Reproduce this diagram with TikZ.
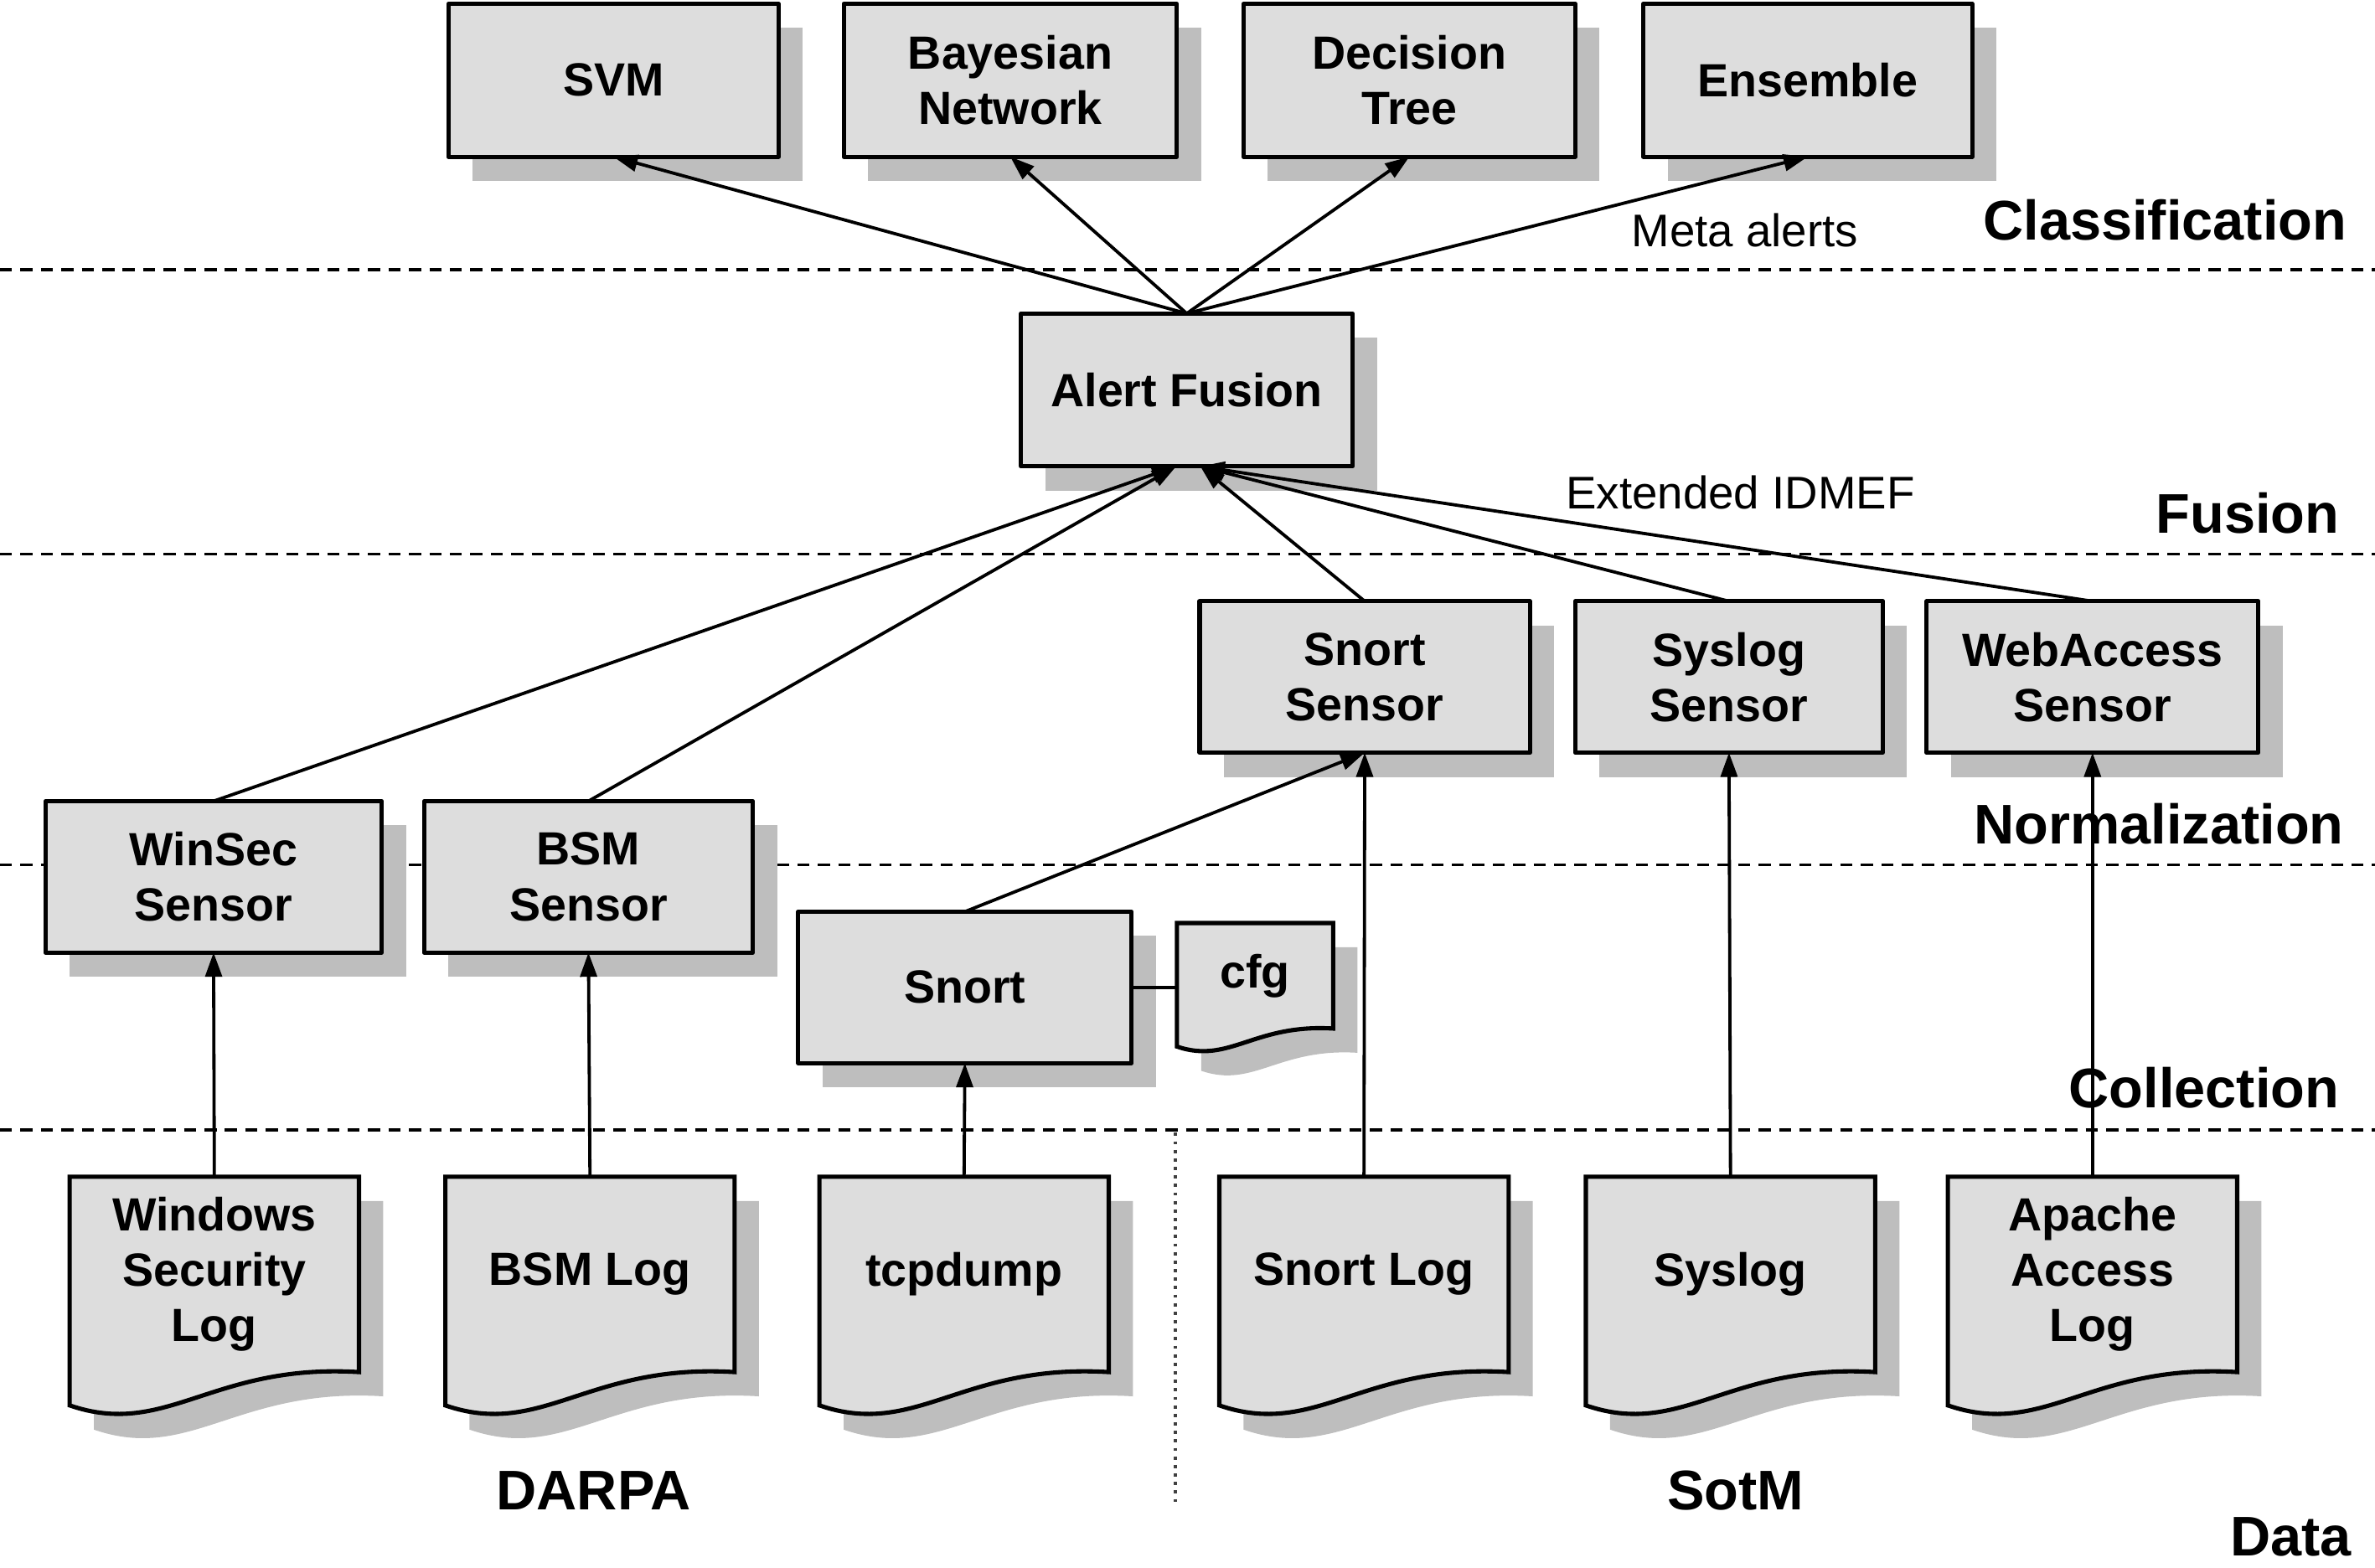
\documentclass[tikz,border=0pt]{standalone}
\usepackage{fontspec}
\setmainfont{Liberation Sans}
\usetikzlibrary{arrows.meta,shadows,backgrounds}
\definecolor{boxgray}{HTML}{DDDDDD}
\definecolor{shadowgray}{HTML}{BEBEBE}

\begin{document}
\begin{tikzpicture}[
  x=0.1mm,
  y=-0.1mm,
  line join=round,
  box/.style={draw=black,line width=0.8pt,fill=boxgray,align=center,
    font=\bfseries\fontsize{8.75}{10.4}\selectfont,inner sep=0pt,outer sep=0pt,
    minimum width=21.8mm,minimum height=10.1mm,
    drop shadow={shadow xshift=1.6mm,shadow yshift=-1.6mm,fill=shadowgray,opacity=1}},
  doc/.style={align=center,font=\bfseries\fontsize{8.75}{10.4}\selectfont,
    inner sep=0pt,outer sep=0pt,minimum width=19.1mm,minimum height=12.9mm},
  docedge/.style={draw=black,line width=0.8pt,fill=boxgray},
  docshadow/.style={fill=shadowgray},
  flow/.style={draw=black,line width=0.6pt,-{Triangle[length=1.6mm,width=1.1mm]}},
  link/.style={draw=black,line width=0.6pt},
  tier/.style={draw=black,line width=0.55pt,dash pattern=on 0.8mm off 0.55mm},
  divider/.style={draw=black!75,line width=0.6pt,densely dotted},
  layer/.style={font=\bfseries\fontsize{10.5}{12}\selectfont,anchor=east,inner sep=0pt},
  group/.style={font=\bfseries\fontsize{10.5}{12}\selectfont,inner sep=0pt},
  msg/.style={font=\fontsize{8.6}{10}\selectfont,inner sep=0pt}
]
  \useasboundingbox (0,0) rectangle (1568,1035);

  % Layer separators.
  \foreach \y in {178,366,571,746} {
    \draw[tier] (0,\y) -- (1568,\y);
  }
  \coordinate (divtop) at (776,748);
  \coordinate (divbot) at (776,995);
  \draw[divider] (divtop) -- (divbot);

  % Layer names.
  \node[layer] (lclass) at (1550,145) {Classification};
  \node[layer] (lfusion) at (1545,339) {Fusion};
  \node[layer] (lnorm) at (1548,544) {Normalization};
  \node[layer] (lcoll) at (1545,718) {Collection};
  \node[layer] (ldata) at (1553,1015) {Data};
  \node[group] (darpa) at (392,984) {DARPA};
  \node[group] (sotm) at (1146,984) {SotM};

  % Classifiers.
  \node[box] (svm) at (405,53) {SVM};
  \node[box,minimum width=22mm] (bayes) at (667,53) {Bayesian\\Network};
  \node[box,minimum width=21.9mm] (dtree) at (930.5,53) {Decision\\Tree};
  \node[box,minimum width=21.7mm] (ensemble) at (1193.5,53) {Ensemble};

  % Fusion and sensors.
  \node[box,minimum width=21.9mm] (fusion) at (783.5,257.5) {Alert Fusion};
  \node[box,minimum height=10mm] (snortsensor) at (901,447) {Snort\\Sensor};
  \node[box,minimum width=20.3mm,minimum height=10mm] (syslogsensor) at (1141.5,447) {Syslog\\Sensor};
  \node[box,minimum width=21.9mm,minimum height=10mm] (webaccess) at (1381.5,447) {WebAccess\\Sensor};
  \node[box,minimum width=22.2mm,minimum height=10mm] (winsec) at (141,579) {WinSec\\Sensor};
  \node[box,minimum width=21.7mm,minimum height=10mm] (bsmsensor) at (388.5,579) {BSM\\Sensor};
  \node[box,minimum width=22mm,minimum height=10mm] (snort) at (637,652) {Snort};

  % Data sources, drawn as documents.
  \node[doc,minimum width=10.3mm,minimum height=7mm] (cfg) at (828.5,644.5) {cfg};
  \node[doc] (wslog) at (141.5,841.5) {Windows\\Security\\Log};
  \node[doc] (bsmlog) at (389.5,841.5) {BSM Log};
  \node[doc] (tcpdump) at (636.5,841.5) {tcpdump};
  \node[doc] (snortlog) at (900.5,841.5) {Snort Log};
  \node[doc] (syslog) at (1142.5,841.5) {Syslog};
  \node[doc] (apachelog) at (1381.5,841.5) {Apache\\Access\\Log};

  % Document outlines go behind their text.
  \begin{scope}[on background layer]
    \foreach \d/\s in {wslog/1,bsmlog/1,tcpdump/1,snortlog/1,syslog/1,apachelog/1,cfg/0.54} {
      \begin{scope}[shift={(\d.north west)}]
        \path[docshadow,shift={(16,16)},scale=\s] (0,0) -- (191,0) -- (191,129)
          .. controls (94,123) and (64,173) .. (0,151) -- cycle;
        \path[docedge,scale=\s] (0,0) -- (191,0) -- (191,129)
          .. controls (94,123) and (64,173) .. (0,151) -- cycle;
      \end{scope}
    }
  \end{scope}

  % Meta alerts to the classifiers.
  \foreach \c in {svm,bayes,dtree,ensemble} {
    \draw[flow] (fusion.north) -- (\c.south);
  }
  \node[msg] (metalbl) at (1152,152) {Meta alerts};

  % Normalized alerts into the fusion stage.
  \foreach \s in {winsec,bsmsensor} {
    \draw[flow] (\s.north) -- ([shift={(-7,0)}]fusion.south);
  }
  \foreach \s in {snortsensor,syslogsensor,webaccess} {
    \draw[flow] (\s.north) -- ([shift={(9,0)}]fusion.south);
  }
  \node[msg] (idmeflbl) at (1149,325) {Extended IDMEF};

  % Collection and normalization.
  \draw[flow] (wslog.north) -- (winsec.south);
  \draw[flow] (bsmlog.north) -- (bsmsensor.south);
  \draw[flow] (tcpdump.north) -- (snort.south);
  \draw[flow] (snort.north) -- (snortsensor.south);
  \draw[flow] (snortlog.north) -- (snortsensor.south);
  \draw[flow] (syslog.north) -- (syslogsensor.south);
  \draw[flow] (apachelog.north) -- (webaccess.south);
  \draw[link] (snort.east) -- (snort.east -| cfg.west);
\end{tikzpicture}
\end{document}
